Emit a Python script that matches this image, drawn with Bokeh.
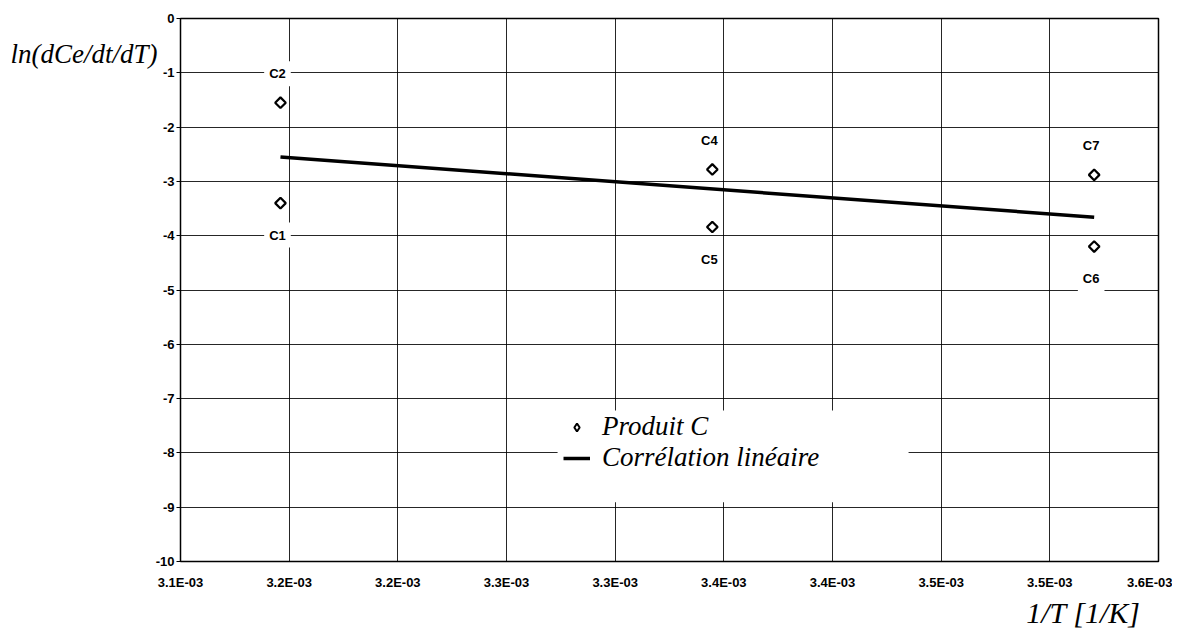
from bokeh.plotting import figure
from bokeh.models import (Label, Legend, LegendItem, FixedTicker, CustomJSTickFormatter,
                          BoxAnnotation, Range1d, Title)
from bokeh.embed import file_html
from bokeh.resources import INLINE

# ---- data ----
point_names = ["C1", "C2", "C4", "C5", "C6", "C7"]
inv_T = [3.146e-3, 3.146e-3, 3.3447e-3, 3.3447e-3, 3.5204e-3, 3.5204e-3]
ln_rate = [-3.40, -1.55, -2.78, -3.84, -4.20, -2.88]

fit_x = [3.146e-3, 3.5204e-3]
fit_y = [-2.55, -3.66]

x_ticks = [0.00310, 0.00315, 0.00320, 0.00325, 0.00330, 0.00335, 0.00340, 0.00345, 0.00350, 0.00355]
x_tick_labels = ["3.1E-03", "3.2E-03", "3.2E-03", "3.3E-03", "3.3E-03",
                 "3.4E-03", "3.4E-03", "3.5E-03", "3.5E-03", "3.6E-03"]
y_ticks = [0, -1, -2, -3, -4, -5, -6, -7, -8, -9, -10]
y_tick_labels = ["0", "-1", "-2", "-3", "-4", "-5", "-6", "-7", "-8", "-9", "-10"]

SANS = "Liberation Sans"
SERIF = "Liberation Serif"

NEAREST = """
let best = 0;
for (let i = 0; i < tv.length; i++) {
  if (Math.abs(tv[i] - tick) < Math.abs(tv[best] - tick)) best = i;
}
return labels[best];
"""

p = figure(width=1172, height=632, output_backend="svg", toolbar_location=None,
           x_range=Range1d(x_ticks[0], x_ticks[-1]), y_range=Range1d(min(y_ticks), max(y_ticks)),
           min_border_left=180, min_border_right=14, min_border_top=18, min_border_bottom=71)
p.background_fill_color = "white"
p.border_fill_color = "white"
p.outline_line_color = "black"
p.outline_line_width = 1.5

# axes
p.xaxis.ticker = FixedTicker(ticks=x_ticks)
p.xaxis.formatter = CustomJSTickFormatter(args=dict(tv=x_ticks, labels=x_tick_labels), code=NEAREST)
p.yaxis.ticker = FixedTicker(ticks=y_ticks)
p.yaxis.formatter = CustomJSTickFormatter(args=dict(tv=y_ticks, labels=y_tick_labels), code=NEAREST)
for ax in (p.xaxis, p.yaxis):
    ax.axis_line_color = "black"
    ax.major_tick_line_color = "black"
    ax.minor_tick_line_color = None
    ax.major_tick_in = 0
    ax.major_label_text_font = SANS
    ax.major_label_text_font_style = "bold"
    ax.major_label_text_font_size = "13px"
    ax.major_label_text_color = "black"
p.xaxis.major_tick_out = 0
p.xaxis.major_label_standoff = 13
p.yaxis.major_tick_out = 4
p.yaxis.major_label_standoff = 2

p.grid.grid_line_color = "black"
p.grid.grid_line_width = 1
p.grid.grid_line_alpha = 0.85

# legend background (white, no border)
p.add_layout(BoxAnnotation(left=3.2735e-3, right=3.435e-3, top=-7.22, bottom=-8.91,
                           fill_color="white", fill_alpha=1.0, line_alpha=0))

# glyphs
line_r = p.line(fit_x, fit_y, line_color="black", line_width=3.5)
pts_r = p.scatter(inv_T, ln_rate, marker="square", angle=0.785398, size=7.5,
                  fill_color="white", line_color="black", line_width=2.2)
# legend swatch for the points (its single point is NaN, so nothing is drawn in the plot)
legend_swatch = p.scatter(x=[float("nan")], y=[float("nan")], marker="diamond", size=9,
                          fill_color="white", line_color="black", line_width=2)

# point labels (above the upper point of a pair, below the lower one)
for name, xv, yv in zip(point_names, inv_T, ln_rate):
    others = [y2 for x2, y2 in zip(inv_T, ln_rate) if x2 == xv]
    above = yv >= max(others)
    p.add_layout(Label(x=xv, y=yv, x_offset=-3, y_offset=(29 if above else -32), text=name,
                       text_align="center", text_baseline="middle",
                       text_font=SANS, text_font_style="bold", text_font_size="13px",
                       text_color="black", background_fill_color="white", padding=5))

legend = Legend(items=[LegendItem(label="Produit C", renderers=[legend_swatch]),
                       LegendItem(label="Corrélation linéaire", renderers=[line_r])],
                location=(378, 83), background_fill_alpha=0, border_line_alpha=0,
                label_text_font=SERIF, label_text_font_style="italic",
                label_text_font_size="27px", label_text_color="black",
                glyph_width=27, glyph_height=20,
                label_standoff=12, spacing=0, padding=5, margin=0)
p.add_layout(legend, "center")

# axis titles
p.add_layout(Label(x=x_ticks[0], y=max(y_ticks), x_offset=-23, y_offset=-35,
                   text="ln(dCe/dt/dT)", text_align="right", text_baseline="middle",
                   text_font=SERIF, text_font_style="italic", text_font_size="27px",
                   text_color="black"), "left")
p.add_layout(Title(text="1/T [1/K]", align="right", offset=18, standoff=3,
                   text_font=SERIF, text_font_style="italic", text_font_size="30px",
                   text_color="black"), "below")

open("out.html", "w").write(file_html(p, INLINE))
